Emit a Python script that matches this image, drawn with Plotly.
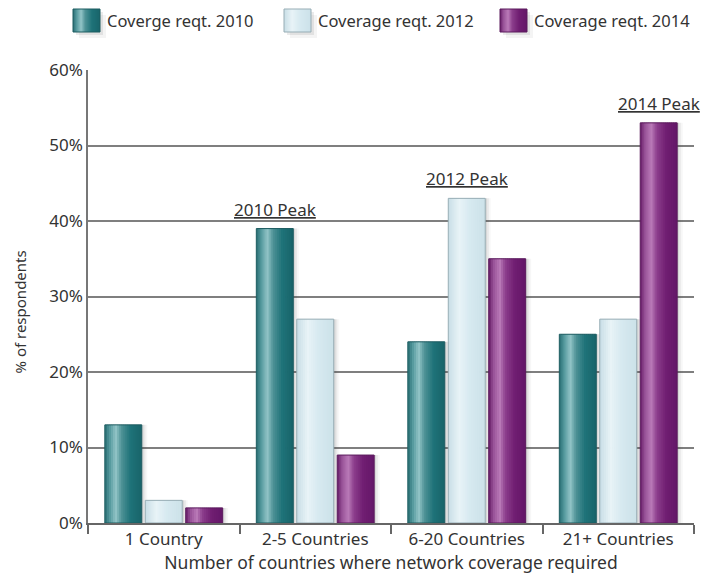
import plotly.graph_objects as go

# Survey data: share of respondents by number of countries needing coverage
categories = ["1 Country", "2-5 Countries", "6-20 Countries", "21+ Countries"]
series_names = ["Coverge reqt. 2010", "Coverage reqt. 2012", "Coverage reqt. 2014"]
cov_2010 = [13, 39, 24, 25]
cov_2012 = [3, 27, 43, 27]
cov_2014 = [2, 9, 35, 53]
peak_labels = ["2010 Peak", "2012 Peak", "2014 Peak"]

series_values = [cov_2010, cov_2012, cov_2014]

# Cylinder-like shading profiles (position across bar -> colour)
profiles = [
    [(0.0, (40, 108, 114)), (0.12, (80, 150, 154)), (0.3, (146, 196, 199)),
     (0.45, (78, 146, 150)), (0.7, (30, 114, 120)), (1.0, (24, 100, 106))],
    [(0.0, (200, 222, 230)), (0.3, (232, 243, 247)), (0.6, (214, 233, 240)),
     (1.0, (204, 225, 233))],
    [(0.0, (100, 26, 102)), (0.12, (150, 80, 150)), (0.3, (186, 122, 184)),
     (0.45, (140, 62, 140)), (0.7, (112, 30, 114)), (1.0, (100, 22, 104))],
]
outline_colors = ["#1d5c61", "#97adb5", "#5a1a5c"]


def shade(profile, t):
    for (t0, c0), (t1, c1) in zip(profile, profile[1:]):
        if t0 <= t <= t1:
            f = (t - t0) / (t1 - t0) if t1 > t0 else 0
            c = [round(a + (b - a) * f) for a, b in zip(c0, c1)]
            return "rgb(%d,%d,%d)" % tuple(c)
    return "rgb(%d,%d,%d)" % profile[-1][1]


W, H = 713, 577
M_L, M_R, M_T, M_B = 88, 19, 70, 54
PLOT_W = W - M_L - M_R
PLOT_H = H - M_T - M_B


def px_x(p):
    return (p - M_L) / PLOT_W


def px_y(p):
    return (H - M_B - p) / PLOT_H


step = 0.267       # spacing between bars inside a group
bar_w = 0.244      # bar width in category units
n_strips = 18
strip_w = bar_w / n_strips

fig = go.Figure()

for s, (name, vals) in enumerate(zip(series_names, series_values)):
    left = (s - 1) * step - bar_w / 2
    # soft drop shadow
    for dx, a in [(0.012, 0.10), (0.024, 0.07), (0.036, 0.045)]:
        fig.add_trace(go.Bar(
            x=categories, y=vals, offset=left + dx, width=bar_w,
            marker=dict(color="rgba(60,60,60,%g)" % a, line_width=0),
            showlegend=False, hoverinfo="skip"))
    # shaded strips
    for k in range(n_strips):
        t = (k + 0.5) / n_strips
        fig.add_trace(go.Bar(
            x=categories, y=vals,
            offset=left + k * strip_w,
            width=strip_w * (1.4 if k < n_strips - 1 else 1.0),
            marker=dict(color=shade(profiles[s], t), line_width=0),
            showlegend=False, hoverinfo="skip"))
    # outline
    fig.add_trace(go.Bar(
        x=categories, y=vals, offset=left, width=bar_w, name=name,
        marker=dict(color="rgba(0,0,0,0)",
                    line=dict(color=outline_colors[s], width=1)),
        showlegend=False))

# Peak labels above each series' highest bar
for s, vals in enumerate(series_values):
    i = vals.index(max(vals))
    fig.add_annotation(
        x=i + (s - 1) * step, y=vals[i], xref="x", yref="y",
        text="<u>%s</u>" % peak_labels[s], showarrow=False,
        yanchor="bottom", yshift=6,
        font=dict(size=17, color="#333333"))

# Legend row: shaded swatch + label for each series
legend_x = [73, 284, 500]
sw_w, sw_top, sw_bot = 27, 9, 32
for s, name in enumerate(series_names):
    x0 = legend_x[s]
    for dx, a in [(3, 0.10), (6, 0.06)]:
        fig.add_shape(type="rect", xref="paper", yref="paper",
                      x0=px_x(x0 + dx), x1=px_x(x0 + sw_w + dx),
                      y0=px_y(sw_bot + dx), y1=px_y(sw_top + dx),
                      fillcolor="rgba(60,60,60,%g)" % a, line_width=0,
                      layer="below")
    for k in range(sw_w):
        t = (k + 0.5) / sw_w
        fig.add_shape(type="rect", xref="paper", yref="paper",
                      x0=px_x(x0 + k), x1=px_x(x0 + min(k + 1.5, sw_w)),
                      y0=px_y(sw_bot), y1=px_y(sw_top),
                      fillcolor=shade(profiles[s], t), line_width=0)
    fig.add_shape(type="rect", xref="paper", yref="paper",
                  x0=px_x(x0), x1=px_x(x0 + sw_w),
                  y0=px_y(sw_bot), y1=px_y(sw_top),
                  line=dict(color=outline_colors[s], width=1))
    fig.add_annotation(
        text=name, showarrow=False, xref="paper", yref="paper",
        x=px_x(x0 + sw_w + 5), y=px_y((sw_top + sw_bot) / 2),
        xanchor="left", yanchor="middle",
        font=dict(size=16.5, color="#333333"))

# Vertical axis title
fig.add_annotation(
    text="% of respondents", textangle=-90, showarrow=False,
    xref="paper", yref="paper", x=-0.112, y=0.465,
    xanchor="center", yanchor="middle",
    font=dict(size=15, color="#333333"))

font_family = "Noto Sans, Open Sans, sans-serif"

fig.update_layout(
    width=W, height=H,
    margin=dict(l=M_L, r=M_R, t=M_T, b=M_B),
    paper_bgcolor="white", plot_bgcolor="white",
    barmode="overlay",
    font=dict(family=font_family, color="#333333"),
    showlegend=False,
    xaxis=dict(
        categoryorder="array", categoryarray=categories,
        showline=True, linecolor="#666666", linewidth=1.5,
        ticks="outside", tickson="boundaries", ticklen=9,
        tickcolor="#666666", tickwidth=1.5,
        tickfont=dict(size=17, color="#333333"),
        title=dict(text="Number of countries where network coverage required",
                   font=dict(size=17.5, color="#333333"), standoff=2),
        range=[-0.5, 3.5], automargin=False,
    ),
    yaxis=dict(
        range=[0, 60], dtick=10, ticksuffix="%",
        showgrid=True, gridcolor="#7f7f7f", gridwidth=1.5,
        showline=True, linecolor="#777777", linewidth=1.5,
        zeroline=False, ticks="", automargin=False,
        tickfont=dict(size=17, color="#333333"),
    ),
)

fig.write_html("out.html")
